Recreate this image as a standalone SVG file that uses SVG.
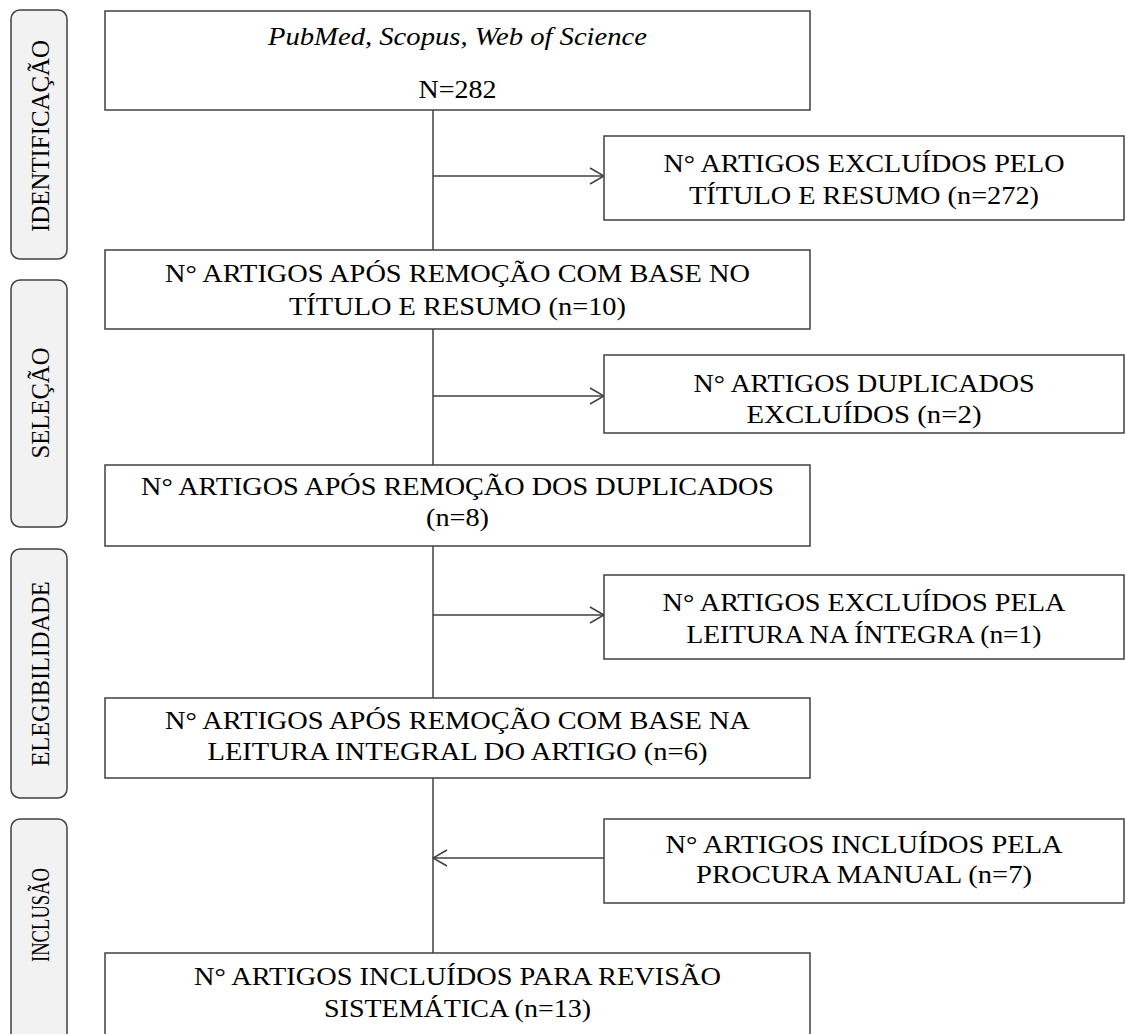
<svg xmlns="http://www.w3.org/2000/svg" width="1126" height="1034" viewBox="0 0 1126 1034">
<style>
.box{fill:#fff;stroke:#404040;stroke-width:1.5}
.side{fill:#f2f2f2;stroke:#404040;stroke-width:1.5}
.t{font-family:"Liberation Serif","Times New Roman",serif;font-size:26px;fill:#000;text-anchor:middle}
.it{font-style:italic}
.ln{stroke:#404040;stroke-width:1.5;fill:none}
</style>
<defs>
<marker id="arr" markerWidth="16" markerHeight="18" refX="15" refY="9" orient="auto" markerUnits="userSpaceOnUse">
<path d="M1,1 L15,9 L1,17" fill="none" stroke="#404040" stroke-width="1.5"/>
</marker>
</defs>
<g id="side-identificacao">
<rect class="side" x="11" y="10" width="56" height="249" rx="9"/>
<text class="t" transform="translate(49,136) rotate(-90)" textLength="192" lengthAdjust="spacingAndGlyphs">IDENTIFICAÇÃO</text>
</g>
<g id="side-selecao">
<rect class="side" x="11" y="280" width="56" height="247" rx="9"/>
<text class="t" transform="translate(49,403) rotate(-90)" textLength="111" lengthAdjust="spacingAndGlyphs">SELEÇÃO</text>
</g>
<g id="side-elegibilidade">
<rect class="side" x="11" y="549" width="56" height="249" rx="9"/>
<text class="t" transform="translate(49,674) rotate(-90)" textLength="185" lengthAdjust="spacingAndGlyphs">ELEGIBILIDADE</text>
</g>
<g id="side-inclusao">
<rect class="side" x="11" y="819" width="56" height="230" rx="9"/>
<text class="t" transform="translate(49,915) rotate(-90)" textLength="94" lengthAdjust="spacingAndGlyphs">INCLUSÃO</text>
</g>
<g id="connectors">
<line class="ln" x1="433" y1="110" x2="433" y2="953"/>
<line class="ln" x1="433" y1="176" x2="604" y2="176" marker-end="url(#arr)"/>
<line class="ln" x1="433" y1="396" x2="604" y2="396" marker-end="url(#arr)"/>
<line class="ln" x1="433" y1="615" x2="604" y2="615" marker-end="url(#arr)"/>
<line class="ln" x1="604" y1="858" x2="433" y2="858" marker-end="url(#arr)"/>
</g>
<g id="n-databases">
<rect class="box" x="105" y="11" width="705" height="99"/>
<text class="t it" x="457.5" y="45" textLength="379" lengthAdjust="spacingAndGlyphs">PubMed, Scopus, Web of Science</text>
<text class="t" x="457.5" y="98" textLength="78" lengthAdjust="spacingAndGlyphs">N=282</text>
</g>
<g id="n-excl-titulo">
<rect class="box" x="604" y="136" width="520" height="84"/>
<text class="t" x="864" y="172" textLength="401" lengthAdjust="spacingAndGlyphs">N° ARTIGOS  EXCLUÍDOS  PELO</text>
<text class="t" x="864" y="204" textLength="350" lengthAdjust="spacingAndGlyphs">TÍTULO E RESUMO (n=272)</text>
</g>
<g id="n-apos-titulo">
<rect class="box" x="105" y="250" width="705" height="79"/>
<text class="t" x="457.5" y="282" textLength="585" lengthAdjust="spacingAndGlyphs">N° ARTIGOS  APÓS REMOÇÃO COM BASE NO</text>
<text class="t" x="457.5" y="315" textLength="337" lengthAdjust="spacingAndGlyphs">TÍTULO E RESUMO (n=10)</text>
</g>
<g id="n-duplicados">
<rect class="box" x="604" y="355" width="520" height="78"/>
<text class="t" x="864" y="392" textLength="341" lengthAdjust="spacingAndGlyphs">N° ARTIGOS  DUPLICADOS</text>
<text class="t" x="864" y="423" textLength="235" lengthAdjust="spacingAndGlyphs">EXCLUÍDOS  (n=2)</text>
</g>
<g id="n-apos-duplicados">
<rect class="box" x="105" y="465" width="705" height="81"/>
<text class="t" x="457.5" y="495" textLength="633" lengthAdjust="spacingAndGlyphs">N° ARTIGOS  APÓS REMOÇÃO DOS DUPLICADOS</text>
<text class="t" x="457.5" y="526" textLength="63" lengthAdjust="spacingAndGlyphs">(n=8)</text>
</g>
<g id="n-excl-leitura">
<rect class="box" x="604" y="575" width="520" height="84"/>
<text class="t" x="864" y="611" textLength="403" lengthAdjust="spacingAndGlyphs">N° ARTIGOS  EXCLUÍDOS  PELA</text>
<text class="t" x="864" y="643" textLength="355" lengthAdjust="spacingAndGlyphs">LEITURA  NA ÍNTEGRA  (n=1)</text>
</g>
<g id="n-apos-leitura">
<rect class="box" x="105" y="698" width="705" height="80"/>
<text class="t" x="457.5" y="729" textLength="585" lengthAdjust="spacingAndGlyphs">N° ARTIGOS  APÓS REMOÇÃO COM BASE NA</text>
<text class="t" x="457.5" y="760" textLength="500" lengthAdjust="spacingAndGlyphs">LEITURA  INTEGRAL  DO ARTIGO (n=6)</text>
</g>
<g id="n-procura-manual">
<rect class="box" x="604" y="819" width="520" height="84"/>
<text class="t" x="864" y="853" textLength="397" lengthAdjust="spacingAndGlyphs">N° ARTIGOS  INCLUÍDOS  PELA</text>
<text class="t" x="864" y="883" textLength="336" lengthAdjust="spacingAndGlyphs">PROCURA  MANUAL  (n=7)</text>
</g>
<g id="n-incluidos">
<rect class="box" x="105" y="953" width="705" height="90"/>
<text class="t" x="457.5" y="985" textLength="527" lengthAdjust="spacingAndGlyphs">N° ARTIGOS  INCLUÍDOS  PARA  REVISÃO</text>
<text class="t" x="457.5" y="1017" textLength="267" lengthAdjust="spacingAndGlyphs">SISTEMÁTICA  (n=13)</text>
</g>
</svg>
